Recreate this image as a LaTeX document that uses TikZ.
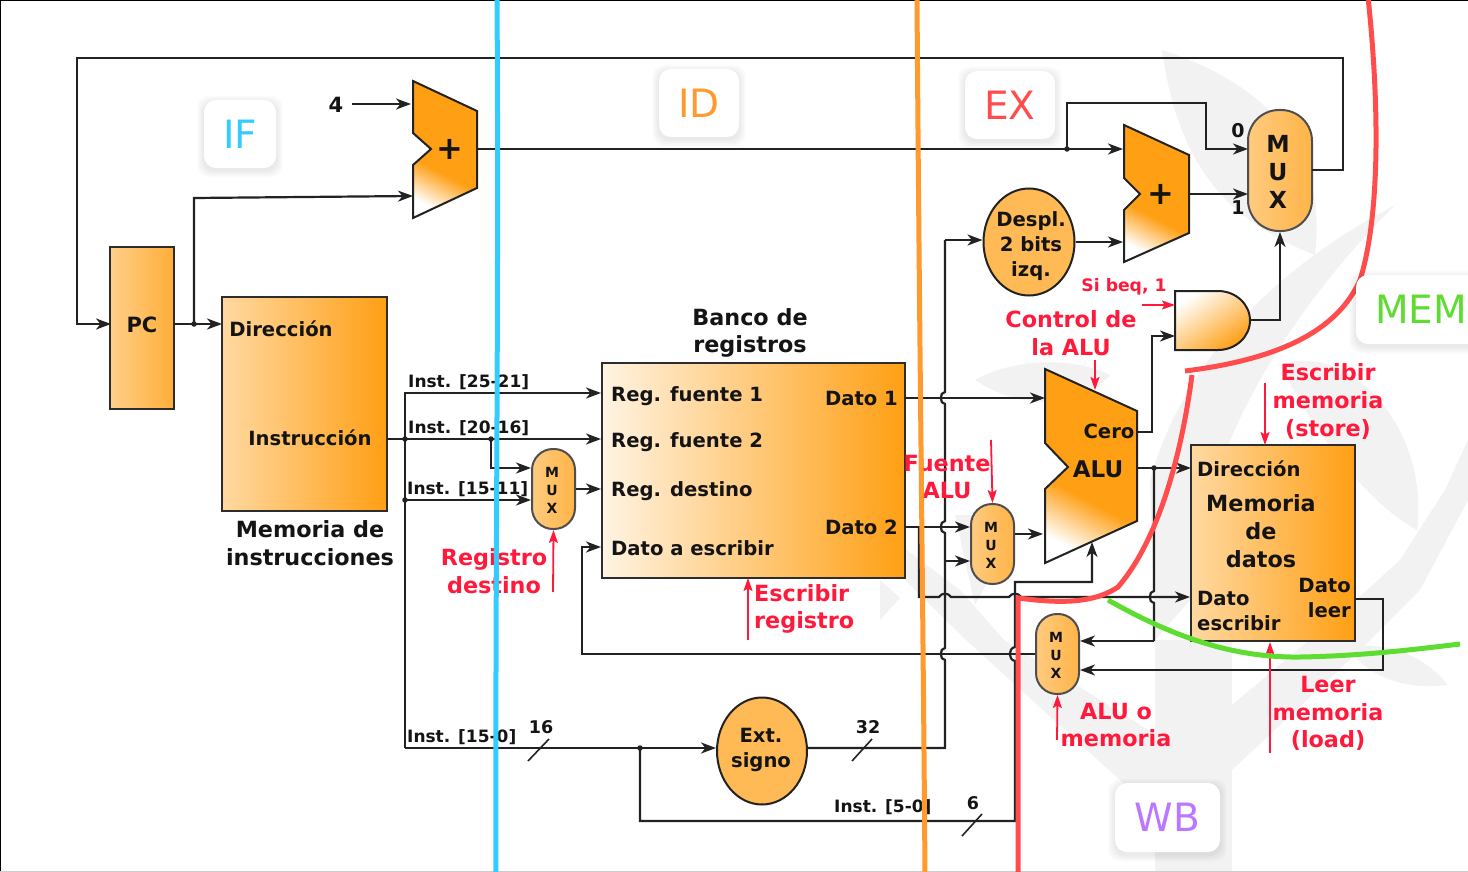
\documentclass[tikz,border=0pt]{standalone}
\usepackage{fontspec}
\setmainfont{DejaVu Sans}
\usetikzlibrary{arrows.meta,calc,shapes.geometric}
\definecolor{ln}{HTML}{222222}
\definecolor{org}{HTML}{FF9F14}
\definecolor{rd}{HTML}{FF1A3C}
\definecolor{wm}{HTML}{F2F2F2}
\definecolor{cblue}{HTML}{33CCFF}
\definecolor{corg}{HTML}{FF9A2E}
\definecolor{cred}{HTML}{FF4D4D}
\definecolor{cgrn}{HTML}{5FDC32}
\definecolor{cvio}{HTML}{BB77FF}
\pgfdeclareverticalshading{addshade}{100bp}{color(0bp)=(white); color(24bp)=(white); color(40bp)=(org); color(100bp)=(org)}
\newcommand\fsz[1]{\fontsize{#1}{#1}\selectfont\bfseries}
\newcommand\softshadow[4]{% cx cy w h
  \foreach \e in {1,2,...,7}{
    \fill[black,opacity=0.012,rounded corners=12pt] (#1-#3/2-\e,#2-#4/2-\e+2.5) rectangle (#1+#3/2+\e,#2+#4/2+\e+2.5);
  }}
\tikzset{
  x=1pt,y=-1pt,
  wire/.style={draw=ln,line width=2.2pt},
  arr/.style={wire,-{Stealth[length=15pt,width=11pt,inset=4.5pt]}},
  redarr/.style={draw=rd,line width=1.8pt,-{Stealth[length=13pt,width=9pt,inset=2.5pt]}},
  dotc/.style={circle,fill=ln,inner sep=0pt,minimum size=5.5pt},
  lab/.style={inner sep=0pt,text=black!92,align=center,font=\fsz{#1}},
  lab/.default=19.6,
  rlab/.style={inner sep=0pt,text=rd,align=center,font=\fsz{#1}},
  rlab/.default=22.3,
  block/.style={draw=ln!95,line width=2.2pt,inner sep=0pt,left color=#1,right color=org},
  muxb/.style={draw=ln!80,line width=2pt,inner sep=0pt,left color=#1!70!white,right color=#1},
  oval/.style={draw=ln,line width=2pt,ellipse,inner sep=0pt,fill=#1},
  tag/.style={rounded corners=12pt,fill=white,inner sep=0pt,font=\fontsize{39}{39}\selectfont},
  phase/.style={line width=5pt},
  addr/.style={draw=ln,line width=2pt,shading=addshade,shading angle=-28},
}
\begin{document}
\begin{tikzpicture}
\useasboundingbox (0,0) rectangle (1468,872);
\fill[white] (0,0) rectangle (1468,872);
% watermark
\fill[wm] (1162,50) .. controls (1240,75) and (1330,130) .. (1315,255) .. controls (1240,225) and (1180,180) .. (1162,50) -- cycle;
\fill[wm] (1395,205) .. controls (1300,255) and (1190,340) .. (1150,480) -- (1155,640) -- (1190,600) .. controls (1200,450) and (1290,310) .. (1395,205) -- cycle;
\fill[wm] (975,380) .. controls (1010,360) and (1070,355) .. (1110,375) .. controls (1080,410) and (1020,410) .. (975,380) -- cycle;
\fill[wm] (1280,365) .. controls (1350,340) and (1430,430) .. (1417,530) .. controls (1380,510) and (1330,460) .. (1280,365) -- cycle;
\fill[wm] (1155,640) rectangle (1232,872);
\fill[wm] (880,530) -- (960,590) -- (1004,640) -- (1155,734) -- (1155,820) -- (1142,800) -- (966,640) -- (905,580) -- cycle;
\fill[wm] (880,580) -- (900,598) -- (880,620) -- cycle;
\fill[wm] (955,515) -- (1000,515) -- (1000,560) -- (975,605) -- cycle;
\fill[wm] (1232,705) -- (1345,610) -- (1400,560) -- (1445,490) -- (1468,440) -- (1468,500) -- (1420,590) -- (1360,650) -- (1232,770) -- cycle;
\fill[wm] (1347,647) .. controls (1390,640) and (1430,660) .. (1447,685) .. controls (1410,690) and (1370,680) .. (1347,647) -- cycle;
% frame
\draw[black,line width=1.5pt] (0,872) -- (0,0) -- (1468,0);
\draw[black!20,line width=1pt] (0,871.5) -- (1468,871.5);

% blocks
\node[draw=ln!95,line width=2.2pt,inner sep=0pt,left color=org!50!white,right color=org!85!white,minimum width=64pt,minimum height=162pt] (pc) at (142,328) {};
\node[lab=21] (pct) at (142,325) {PC};
\node[block=org!40!white,minimum width=165pt,minimum height=214pt] (imem) at (304.5,404) {};
\node[lab] (t1) at (281,328.5) {Dirección};
\node[lab] (t2) at (310,438) {Instrucción};
\node[lab=22.3] (t3) at (310,543) {Memoria de\\[5.5pt]instrucciones};
\node[block=org!12!white,minimum width=303pt,minimum height=215pt] (regs) at (753.5,470.5) {};
\node[lab=22.3] (t4) at (750,333) {Banco de\\[5.5pt]registros};
\node[lab,anchor=west] (t5) at (611,396) {Reg. fuente 1};
\node[lab,anchor=west] (t6) at (611,442) {Reg. fuente 2};
\node[lab,anchor=west] (t7) at (611,491) {Reg. destino};
\node[lab,anchor=west] (t8) at (611,548) {Dato a escribir};
\node[lab,anchor=east] (t9) at (898,398) {Dato 1};
\node[lab,anchor=east] (t10) at (898,527) {Dato 2};
\node[block=org!40!white,minimum width=164pt,minimum height=196pt] (dmem) at (1273,543) {};
\node[lab,anchor=west] (t11) at (1197,469) {Dirección};
\node[lab=22.3] (t12) at (1261,531) {Memoria\\[5.5pt]de\\[5.5pt]datos};
\node[lab,align=left,anchor=west] (t13) at (1197,611) {Dato\\[5pt]escribir};
\node[lab,align=right,anchor=east] (t14) at (1351,598) {Dato\\[5pt]leer};

% adders and ALU
\path[addr] (413,81) -- (477,111) -- (477,188) -- (413,218) -- (413,165) -- (431,149) -- (413,133) -- cycle;
\node[lab=32] (add1) at (450,149.5) {+};
\path[addr] (1124,125) -- (1189,155) -- (1189,233) -- (1124,262) -- (1124,210) -- (1140,194) -- (1124,178) -- cycle;
\node[lab=32] (add2) at (1161,194.5) {+};
\path[addr] (1045,369) -- (1137,411) -- (1137,521) -- (1045,563) -- (1045,489) -- (1068,467) -- (1045,443) -- cycle;
\node[lab=23] (alu) at (1098,469) {ALU};
\node[lab=19.6] (cero) at (1109,431) {Cero};

% AND gate
\path[draw=ln,line width=2pt,top color=white,bottom color=org,shading angle=35] (1175,291) -- (1218,291) arc[start angle=90,end angle=-90,x radius=32,y radius=-29.5] -- (1175,350) -- cycle;

% muxes
\node[muxb=org!78!white,rounded corners=31pt,minimum width=64pt,minimum height=121pt] (bigmux) at (1280,170.5) {};
\node[lab=23.5,align=center] (bmt) at (1278,172) {M\\[4.5pt]U\\[4.5pt]X};
\node[muxb=org!78!white,rounded corners=21pt,minimum width=43pt,minimum height=80pt] (mux1) at (553.5,489) {};
\node[lab=14,align=center] (m1t) at (552,490) {M\\[4pt]U\\[4pt]X};
\node[muxb=org!78!white,rounded corners=21pt,minimum width=43pt,minimum height=80pt] (mux2) at (992.5,544) {};
\node[lab=14,align=center] (m2t) at (991,545) {M\\[4pt]U\\[4pt]X};
\node[muxb=org!78!white,rounded corners=21pt,minimum width=43pt,minimum height=80pt] (mux3) at (1057.5,654) {};
\node[lab=14,align=center] (m3t) at (1056,655) {M\\[4pt]U\\[4pt]X};
\node[oval=org!72!white,minimum width=91pt,minimum height=107pt] (despl) at (1029,242) {};
\node[lab] (dt) at (1031,246) {Despl.\\[5pt]2 bits\\[5pt]izq.};
\node[oval=org!72!white,minimum width=90pt,minimum height=107pt] (ext) at (762,751) {};
\node[lab] (et) at (761,750) {Ext.\\[5pt]signo};

% named points
\coordinate (pcin) at (111,324);
\coordinate (pcout) at (174,324);
\coordinate (imin) at (222,324);
\coordinate (dpc) at (194,324);
\coordinate (add1a) at (413,196);
\coordinate (add1b) at (411,104);
\coordinate (four) at (352,104);
\coordinate (add1o) at (477,149);
\coordinate (dadd) at (1067,149);
\coordinate (add2a) at (1123,149);
\coordinate (add2b) at (1123,242);
\coordinate (add2o) at (1189,194);
\coordinate (bm0) at (1248,149);
\coordinate (bm1) at (1248,194);
\coordinate (bmo) at (1312,170);
\coordinate (imo) at (387,439);
\coordinate (dv) at (405,439);
\coordinate (d15) at (405,500);
\coordinate (d20) at (491,439);
\coordinate (r1) at (601,393);
\coordinate (r2) at (601,439);
\coordinate (r3) at (601,489);
\coordinate (r4) at (601,547);
\coordinate (o1) at (905,398);
\coordinate (o2) at (905,527);
\coordinate (dex) at (640,748);

% wires
\draw[arr] (bmo) -- (1343,170) -- (1343,58) -- (77,58) -- (77,324) -- (pcin);
\draw[arr] (pcout) -- (imin);
\draw[arr] (dpc) -- (194,198) -- (add1a);
\draw[arr] (four) -- (add1b);
\draw[arr] (add1o) -- (add2a);
\draw[arr] (dadd) -- (1067,103) -- (1206,103) -- (1206,149) -- (bm0);
\draw[arr] (add2o) -- (bm1);
\draw[arr] (despl.east |- add2b) -- (add2b);
\draw[arr] (1250,320) -- (1280,320) -- (bigmux.south);
\draw[arr] (1137,432) -- (1152,432) -- (1152,336) -- (1175,336);
\draw[arr] (imo) -- (r2);
\draw[arr] (405,748) -- (405,393) -- (r1);
\draw[arr] (d15) -- (mux1.west |- d15);
\draw[arr] (d20) -- (491,468) -- (mux1.west |- 0,468);
\draw[arr] (mux1.east) -- (r3);
\draw[arr] (405,748) -- (ext.west |- 0,748);
\draw[arr] (mux3.west |- 0,654) -- (582,654) -- (582,547) -- (r4);
\draw[wire] (ext.east |- 0,748) -- (945,748) -- (945,660) to[out=180,in=180,looseness=1.2] (945,648) -- (945,533) to[out=180,in=180,looseness=1.2] (945,521) -- (945,404) to[out=180,in=180,looseness=1.2] (945,392) -- (945,240);
\draw[arr] (945,240) -- (despl.west |- 0,240);
\draw[arr] (o1) -- (1045,398);
\draw[arr] (o2) -- (mux2.west |- o2);
\draw[arr] (945,561) -- (mux2.west |- 0,561);
\draw[arr] (mux2.east |- 0,534) -- (1043,534);
\draw[arr] (919,527) -- (919,597) -- (939,597) to[out=60,in=120,looseness=1.1] (951,597) -- (1009,597) to[out=60,in=120,looseness=1.1] (1021,597) -- (1190,597);
\draw[arr] (dex) -- (640,821) -- (1015,821) -- (1015,661) to[out=170,in=190,looseness=1.3] (1015,647) -- (1015,582) -- (1092,582) -- (1092,542);
\draw[arr] (1137,468) -- (1191,468);
\draw[wire] (1154,468) -- (1154,591) to[out=180,in=180,looseness=1.2] (1154,603) -- (1154,641);
\draw[arr] (1154,641) -- (mux3.east |- 0,641);
\draw[arr] (1355,599) -- (1383,599) -- (1383,670) -- (mux3.east |- 0,670);
\foreach \n/\p in {a/dpc,b/dadd,c/dv,d/d15,e/d20,f/dex}{\node[dotc] (j\n) at (\p) {};}
\node[dotc] (jg) at (1154,468) {};

% wire labels
\node[lab=21] (n4) at (336,105) {4};
\node[lab=19] (n0) at (1238,131) {0};
\node[lab=19] (n1) at (1238,208) {1};
\node[lab=17,anchor=west] (i1) at (408,382) {Inst. [25-21]};
\node[lab=17,anchor=west] (i2) at (408,428) {Inst. [20-16]};
\node[lab=17,anchor=west] (i3) at (407,489) {Inst. [15-11]};
\node[lab=17,anchor=west] (i4) at (407,737) {Inst. [15-0]};
\node[lab=17,anchor=west] (i5) at (834,807) {Inst. [5-0]};
\node[lab=17.5] (b16) at (541,727) {16};
\node[lab=17.5] (b32) at (868,727) {32};
\node[lab=17.5] (b6) at (973,803) {6};
\coordinate (s1a) at (528,761); \coordinate (s1b) at (549,739);
\coordinate (s2a) at (852,761); \coordinate (s2b) at (872,739);
\coordinate (s3a) at (962,836); \coordinate (s3b) at (982,814);
\draw[wire,line width=1.6pt] (s1a) -- (s1b);
\draw[wire,line width=1.6pt] (s2a) -- (s2b);
\draw[wire,line width=1.6pt] (s3a) -- (s3b);

% red labels
\node[rlab] (x1) at (494,571) {Registro\\[5.5pt]destino};
\node[rlab,align=left,anchor=west] (x2) at (754,609) {Escribir\\[5.5pt]registro};
\node[rlab] (x3) at (947,477) {Fuente\\[5.5pt]ALU};
\node[rlab] (x4) at (1071,333) {Control de\\[5.5pt]la ALU};
\node[rlab=17.2] (x5) at (1124,286.5) {Si beq, 1};
\node[rlab] (x6) at (1328,401.5) {Escribir\\[5.5pt]memoria\\[5.5pt](store)};
\node[rlab] (x7) at (1328,713.5) {Leer\\[5.5pt]memoria\\[5.5pt](load)};
\node[rlab] (x8) at (1116,725) {ALU o\\[5.5pt]memoria};
\coordinate (y1) at (553,592); \coordinate (y2) at (748,640); \coordinate (y3) at (991,440);
\coordinate (y4) at (1095,360); \coordinate (y5) at (1142,305); \coordinate (y6) at (1265,383);
\coordinate (y7) at (1270,753); \coordinate (y8) at (1057,740);
\draw[redarr] (y1) -- (mux1.south);
\draw[redarr] (y2) -- (748,578);
\draw[redarr] (y3) -- (mux2.north);
\draw[redarr] (y4) -- (1095,390);
\draw[redarr] (y5) -- (1175,305);
\draw[redarr] (y6) -- (1265,445);
\draw[redarr] (y7) -- (1270,642);
\draw[redarr] (y8) -- (mux3.south);

% phase lines
\draw[phase,draw=cblue] (497,-3) .. controls (499,300) and (495,600) .. (496,875);
\draw[phase,draw=corg] (917,-3) .. controls (919,300) and (923,600) .. (925,875);
\draw[phase,draw=cred] (1368,-3) .. controls (1378,90) and (1382,210) .. (1360,280) .. controls (1340,325) and (1290,358) .. (1185,371);
\draw[phase,draw=cred] (1192,375) .. controls (1178,480) and (1150,550) .. (1118,587) .. controls (1090,606) and (1050,602) .. (1018,598) -- (1018,875);
\draw[phase,draw=cgrn] (1108,600) .. controls (1170,635) and (1230,658) .. (1300,657) .. controls (1360,656) and (1410,650) .. (1460,644);

% tags
\softshadow{240}{134}{72}{68}
\node[tag,minimum width=72pt,minimum height=68pt,text=cblue] (if) at (240,134) {IF};
\softshadow{699}{103}{80}{68}
\node[tag,minimum width=80pt,minimum height=68pt,text=corg] (id) at (699,103) {ID};
\softshadow{1010}{105}{90}{68}
\node[tag,minimum width=90pt,minimum height=68pt,text=cred] (ex) at (1010,105) {EX};
\softshadow{1421}{309.5}{130}{69}
\node[tag,minimum width=130pt,minimum height=69pt,text=cgrn] (mem) at (1421,309.5) {MEM};
\softshadow{1167.5}{817.5}{105}{69}
\node[tag,minimum width=105pt,minimum height=69pt,text=cvio] (wb) at (1167.5,817.5) {WB};
\end{tikzpicture}
\end{document}
